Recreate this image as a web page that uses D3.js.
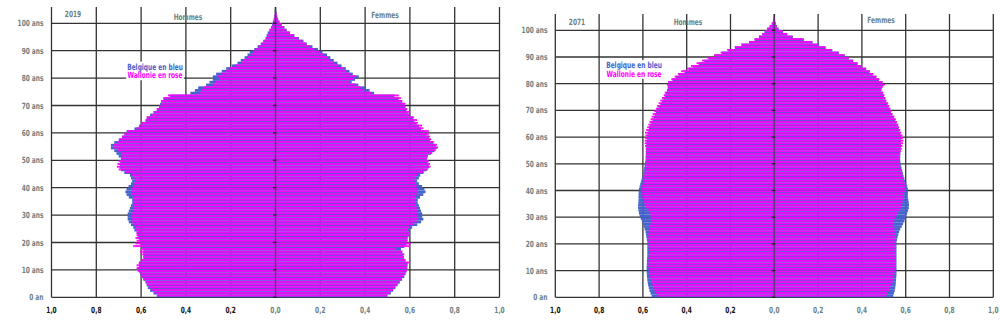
<!DOCTYPE html>
<html>
<head>
<meta charset="utf-8">
<script src="https://cdn.jsdelivr.net/npm/d3@7"></script>
<style>
  body { margin: 0; background: #fff; }
  svg { display: block; }
  text { font-family: "Liberation Sans Narrow", "DejaVu Sans Condensed", "DejaVu Sans", sans-serif; font-weight: bold; }
</style>
</head>
<body>
<svg id="chart" width="1000" height="328"></svg>
<script>
// ---------- DATA (share of total population, %, by single year of age 0..104) ----------
const ages = d3.range(0, 105);
const yearLabels = ["2019", "2071"];
const sexLabels = ["Hommes", "Femmes"];
const legendLabels = ["Belgique en bleu", "Wallonie en rose"];
const ageTicks = [0, 10, 20, 30, 40, 50, 60, 70, 80, 90, 100];
const ageTickLabels = ["0 an", "10 ans", "20 ans", "30 ans", "40 ans", "50 ans", "60 ans", "70 ans", "80 ans", "90 ans", "100 ans"];
const valueTicks = [-1, -0.8, -0.6, -0.4, -0.2, 0, 0.2, 0.4, 0.6, 0.8, 1];
const valueTickLabels = ["1,0", "0,8", "0,6", "0,4", "0,2", "0,0", "0,2", "0,4", "0,6", "0,8", "1,0"];

// 2019 - Hommes
const belH2019 = [0.53,0.545,0.56,0.57,0.575,0.58,0.59,0.60,0.605,0.61,0.615,0.61,0.61,0.60,0.59,0.59,0.59,0.59,0.60,0.60,
  0.605,0.61,0.615,0.62,0.63,0.635,0.645,0.655,0.66,0.66,0.66,0.655,0.65,0.645,0.64,0.64,0.655,0.665,0.67,0.665,
  0.656,0.645,0.64,0.645,0.65,0.675,0.69,0.695,0.695,0.693,0.69,0.70,0.71,0.72,0.735,0.735,0.72,0.70,0.685,0.675,
  0.665,0.63,0.61,0.60,0.58,0.575,0.56,0.545,0.53,0.52,0.515,0.51,0.50,0.47,0.38,0.36,0.345,0.31,0.295,0.28,
  0.28,0.265,0.24,0.22,0.195,0.17,0.155,0.138,0.125,0.115,0.095,0.08,0.066,0.055,0.045,0.04,0.035,0.028,0.02,0.015,
  0.012,0.008,0.005,0.003,0.002];
const walH2019 = [0.525,0.54,0.555,0.565,0.575,0.58,0.59,0.60,0.605,0.615,0.62,0.62,0.61,0.60,0.59,0.595,0.605,0.60,0.635,0.625,
  0.62,0.625,0.62,0.62,0.625,0.627,0.635,0.645,0.645,0.64,0.64,0.635,0.635,0.635,0.635,0.635,0.635,0.64,0.64,0.64,
  0.635,0.63,0.627,0.635,0.64,0.67,0.70,0.708,0.705,0.70,0.69,0.685,0.69,0.705,0.723,0.72,0.708,0.695,0.686,0.675,
  0.66,0.62,0.605,0.597,0.58,0.575,0.555,0.54,0.53,0.52,0.51,0.51,0.50,0.48,0.34,0.33,0.32,0.28,0.27,0.25,
  0.26,0.24,0.22,0.205,0.18,0.15,0.14,0.125,0.11,0.10,0.085,0.075,0.06,0.05,0.042,0.036,0.03,0.025,0.018,0.013,
  0.01,0.007,0.004,0.003,0.002];
// 2019 - Femmes
const belF2019 = [0.50,0.515,0.525,0.535,0.545,0.555,0.565,0.575,0.58,0.585,0.588,0.588,0.59,0.58,0.573,0.57,0.566,0.56,0.575,0.585,
  0.585,0.59,0.595,0.60,0.60,0.61,0.633,0.65,0.66,0.655,0.655,0.65,0.645,0.64,0.635,0.635,0.645,0.66,0.67,0.665,
  0.654,0.64,0.632,0.64,0.646,0.66,0.675,0.685,0.685,0.68,0.675,0.68,0.695,0.71,0.72,0.715,0.705,0.69,0.685,0.675,
  0.665,0.65,0.64,0.63,0.62,0.615,0.60,0.59,0.585,0.58,0.575,0.565,0.55,0.53,0.44,0.42,0.40,0.37,0.34,0.355,
  0.372,0.345,0.33,0.314,0.295,0.277,0.26,0.245,0.23,0.21,0.19,0.165,0.14,0.125,0.105,0.085,0.065,0.05,0.04,0.028,
  0.018,0.012,0.008,0.005,0.003];
const walF2019 = [0.498,0.512,0.525,0.535,0.545,0.55,0.56,0.57,0.58,0.585,0.588,0.59,0.595,0.58,0.573,0.575,0.566,0.535,0.60,0.603,
  0.59,0.588,0.596,0.595,0.588,0.60,0.618,0.63,0.637,0.635,0.635,0.635,0.63,0.625,0.623,0.623,0.625,0.63,0.636,0.635,
  0.63,0.625,0.62,0.625,0.632,0.662,0.68,0.692,0.69,0.684,0.677,0.68,0.70,0.715,0.726,0.72,0.706,0.695,0.69,0.685,
  0.684,0.66,0.654,0.635,0.632,0.618,0.60,0.596,0.588,0.58,0.58,0.566,0.56,0.55,0.43,0.396,0.38,0.36,0.33,0.345,
  0.359,0.33,0.315,0.30,0.28,0.262,0.245,0.23,0.215,0.195,0.173,0.155,0.135,0.12,0.10,0.08,0.062,0.048,0.038,0.027,
  0.017,0.011,0.007,0.004,0.002];
// 2071 - Hommes
const belH2071 = [0.56,0.565,0.57,0.573,0.576,0.578,0.58,0.581,0.582,0.583,0.583,0.583,0.582,0.582,0.581,0.58,0.58,0.58,0.58,0.58,
  0.58,0.582,0.584,0.586,0.588,0.592,0.596,0.60,0.605,0.61,0.615,0.618,0.62,0.622,0.622,0.621,0.62,0.62,0.62,0.619,
  0.618,0.615,0.612,0.608,0.605,0.60,0.598,0.596,0.594,0.592,0.59,0.588,0.588,0.587,0.586,0.585,0.585,0.584,0.583,0.582,
  0.58,0.578,0.575,0.572,0.568,0.563,0.556,0.55,0.545,0.54,0.535,0.528,0.52,0.512,0.506,0.50,0.495,0.49,0.487,0.488,
  0.478,0.465,0.45,0.435,0.41,0.39,0.37,0.345,0.32,0.30,0.27,0.24,0.21,0.18,0.15,0.115,0.09,0.07,0.055,0.045,
  0.033,0.022,0.012,0.006,0.003];
const walH2071 = [0.533,0.54,0.547,0.552,0.557,0.56,0.564,0.567,0.57,0.572,0.574,0.575,0.575,0.574,0.574,0.573,0.572,0.572,0.573,0.574,
  0.575,0.575,0.575,0.575,0.574,0.572,0.568,0.565,0.564,0.564,0.565,0.568,0.575,0.585,0.592,0.597,0.60,0.603,0.605,0.605,
  0.605,0.603,0.60,0.598,0.596,0.594,0.592,0.59,0.588,0.586,0.585,0.585,0.585,0.586,0.587,0.588,0.59,0.592,0.592,0.59,
  0.588,0.59,0.585,0.58,0.575,0.57,0.565,0.56,0.555,0.548,0.54,0.535,0.528,0.52,0.512,0.505,0.50,0.49,0.485,0.49,
  0.485,0.47,0.455,0.44,0.425,0.40,0.38,0.355,0.33,0.305,0.275,0.245,0.215,0.18,0.15,0.115,0.09,0.07,0.055,0.042,
  0.03,0.02,0.011,0.006,0.003];
// 2071 - Femmes
const belF2071 = [0.543,0.546,0.55,0.552,0.554,0.555,0.556,0.557,0.558,0.558,0.558,0.558,0.558,0.558,0.558,0.558,0.558,0.558,0.558,0.558,
  0.558,0.56,0.563,0.566,0.57,0.575,0.582,0.588,0.594,0.60,0.603,0.607,0.611,0.614,0.615,0.614,0.612,0.61,0.61,0.61,
  0.61,0.607,0.603,0.598,0.594,0.59,0.587,0.584,0.581,0.578,0.576,0.575,0.575,0.575,0.576,0.577,0.578,0.579,0.58,0.58,
  0.578,0.575,0.572,0.568,0.563,0.558,0.552,0.545,0.538,0.532,0.527,0.522,0.517,0.51,0.505,0.50,0.495,0.488,0.49,0.50,
  0.49,0.478,0.465,0.45,0.435,0.42,0.40,0.38,0.36,0.34,0.322,0.295,0.265,0.235,0.205,0.175,0.135,0.085,0.06,0.04,
  0.02,0.012,0.007,0.004,0.002];
const walF2071 = [0.512,0.518,0.525,0.53,0.535,0.54,0.543,0.546,0.548,0.55,0.551,0.552,0.553,0.553,0.552,0.551,0.55,0.55,0.55,0.55,
  0.55,0.55,0.55,0.55,0.55,0.548,0.546,0.545,0.547,0.552,0.558,0.565,0.572,0.578,0.582,0.585,0.588,0.59,0.592,0.595,
  0.597,0.597,0.595,0.592,0.588,0.585,0.582,0.578,0.575,0.572,0.57,0.57,0.572,0.575,0.578,0.582,0.585,0.588,0.59,0.588,
  0.585,0.58,0.575,0.57,0.566,0.56,0.555,0.548,0.54,0.535,0.53,0.525,0.52,0.512,0.508,0.503,0.498,0.49,0.495,0.505,
  0.495,0.48,0.467,0.452,0.436,0.418,0.399,0.38,0.36,0.34,0.32,0.292,0.262,0.232,0.20,0.17,0.13,0.082,0.058,0.038,
  0.018,0.011,0.006,0.003,0.002];

// ---------- LAYOUT ----------
const panels = [
  { year: yearLabels[0], x0: 51.5, x1: 499.5, yBottom: 297.3, y100: 23.3, top: 7,
    belH: belH2019, walH: walH2019, belF: belF2019, walF: walF2019,
    yearPos: [73, 14], hPos: [188, 17], fPos: [385, 15], legPos: [155, 66.5], labelX: 43.5 },
  { year: yearLabels[1], x0: 555.3, x1: 993.3, yBottom: 297.3, y100: 30.3, top: 14,
    belH: belH2071, walH: walH2071, belF: belF2071, walF: walF2071,
    yearPos: [577, 22], hPos: [688, 22], fPos: [881, 20], legPos: [634, 65], labelX: 547.5 }
];

const BLUE = "#4662cc";
const PINK = "#ff00ff";
const GRID = "#333";
const GRAY = "#6e7f82";
const FS = 8.6;     // font size
const SX = 0.76;    // horizontal condensing of the text

const svg = d3.select("#chart");

function label(parent, x, y, txt, anchor, color) {
  return parent.append("text")
    .attr("transform", `translate(${x},${y}) scale(${SX},1)`)
    .attr("dy", "0.35em")
    .attr("text-anchor", anchor)
    .attr("font-size", FS)
    .attr("fill", color)
    .text(txt);
}

panels.forEach(p => {
  const g = svg.append("g");
  const x = d3.scaleLinear().domain([-1, 1]).range([p.x0, p.x1]);
  const y = d3.scaleLinear().domain([0, 100]).range([p.yBottom, p.y100]);

  // vertical grid
  g.append("g").selectAll("line").data(valueTicks.filter(v => v !== 0)).join("line")
    .attr("x1", d => x(d)).attr("x2", d => x(d))
    .attr("y1", p.top).attr("y2", p.yBottom)
    .attr("stroke", GRID).attr("stroke-width", 1.3);
  // horizontal grid
  g.append("g").selectAll("line").data(ageTicks).join("line")
    .attr("x1", p.x0).attr("x2", p.x1)
    .attr("y1", d => y(d)).attr("y2", d => y(d))
    .attr("stroke", GRID).attr("stroke-width", 1.3);

  // zero axis line (behind bars)
  g.append("line").attr("x1", x(0)).attr("x2", x(0)).attr("y1", p.top).attr("y2", p.yBottom)
    .attr("stroke", "#2a2a2a").attr("stroke-width", 1.6);

  const bh = y(0) - y(1);
  const bars = g.append("g");
  // Belgique (blue) full band
  const blueData = ages.flatMap(a => [
    { a, v: -p.belH[a] }, { a, v: p.belF[a] }
  ]);
  bars.selectAll("rect.bel").data(blueData).join("rect").attr("class", "bel")
    .attr("x", d => Math.min(x(0), x(d.v)))
    .attr("width", d => Math.abs(x(d.v) - x(0)))
    .attr("y", d => y(d.a + 1))
    .attr("height", bh)
    .attr("fill", BLUE);
  // Wallonie (pink) outlined bars
  const pinkData = ages.flatMap(a => [
    { a, v: -p.walH[a] }, { a, v: p.walF[a] }
  ]);
  bars.selectAll("rect.wal").data(pinkData).join("rect").attr("class", "wal")
    .attr("x", d => Math.min(x(0), x(d.v)) + 0.4)
    .attr("width", d => Math.max(0, Math.abs(x(d.v) - x(0)) - 0.8))
    .attr("y", d => y(d.a + 1) + 0.4)
    .attr("height", Math.max(0.2, bh - 1.7))
    .attr("fill", PINK).attr("fill-opacity", 0.6)
    .attr("stroke", PINK).attr("stroke-width", 0.85);

  // zero line overlay (dark purple through bars)
  g.append("line").attr("x1", x(0)).attr("x2", x(0)).attr("y1", y(0) - bh * 105).attr("y2", p.yBottom)
    .attr("stroke", "#5b2a6e").attr("stroke-width", 1.4).attr("stroke-opacity", 0.8);
  // small ticks at zero
  g.append("g").selectAll("line").data(ageTicks).join("line")
    .attr("x1", x(0) - 2.5).attr("x2", x(0) + 1)
    .attr("y1", d => y(d)).attr("y2", d => y(d))
    .attr("stroke", "#222").attr("stroke-width", 1.3);

  // y labels
  ageTicks.forEach((d, i) => label(g, p.labelX, y(d), ageTickLabels[i], "end", GRAY));
  // x labels
  valueTicks.forEach((d, i) => label(g, x(d), 310, valueTickLabels[i], "middle", d < 0 ? "#111" : GRAY));

  // header texts
  label(g, p.yearPos[0], p.yearPos[1], p.year, "middle", GRAY);
  label(g, p.hPos[0], p.hPos[1], sexLabels[0], "middle", GRAY);
  label(g, p.fPos[0], p.fPos[1], sexLabels[1], "middle", GRAY);

  // legend with white background
  const lg = g.append("g");
  const t1 = label(lg, p.legPos[0], p.legPos[1], legendLabels[0], "middle", BLUE);
  const t2 = label(lg, p.legPos[0], p.legPos[1] + 8.5, legendLabels[1], "middle", PINK);
  const b1 = t1.node().getBBox(), b2 = t2.node().getBBox();
  const w = Math.max(b1.width, b2.width) * SX + 2;
  lg.insert("rect", "text")
    .attr("x", p.legPos[0] - w / 2).attr("y", p.legPos[1] + b1.y)
    .attr("width", w).attr("height", (b2.y + b2.height) - b1.y + 8.5)
    .attr("fill", "#fff");
});
</script>
</body>
</html>
